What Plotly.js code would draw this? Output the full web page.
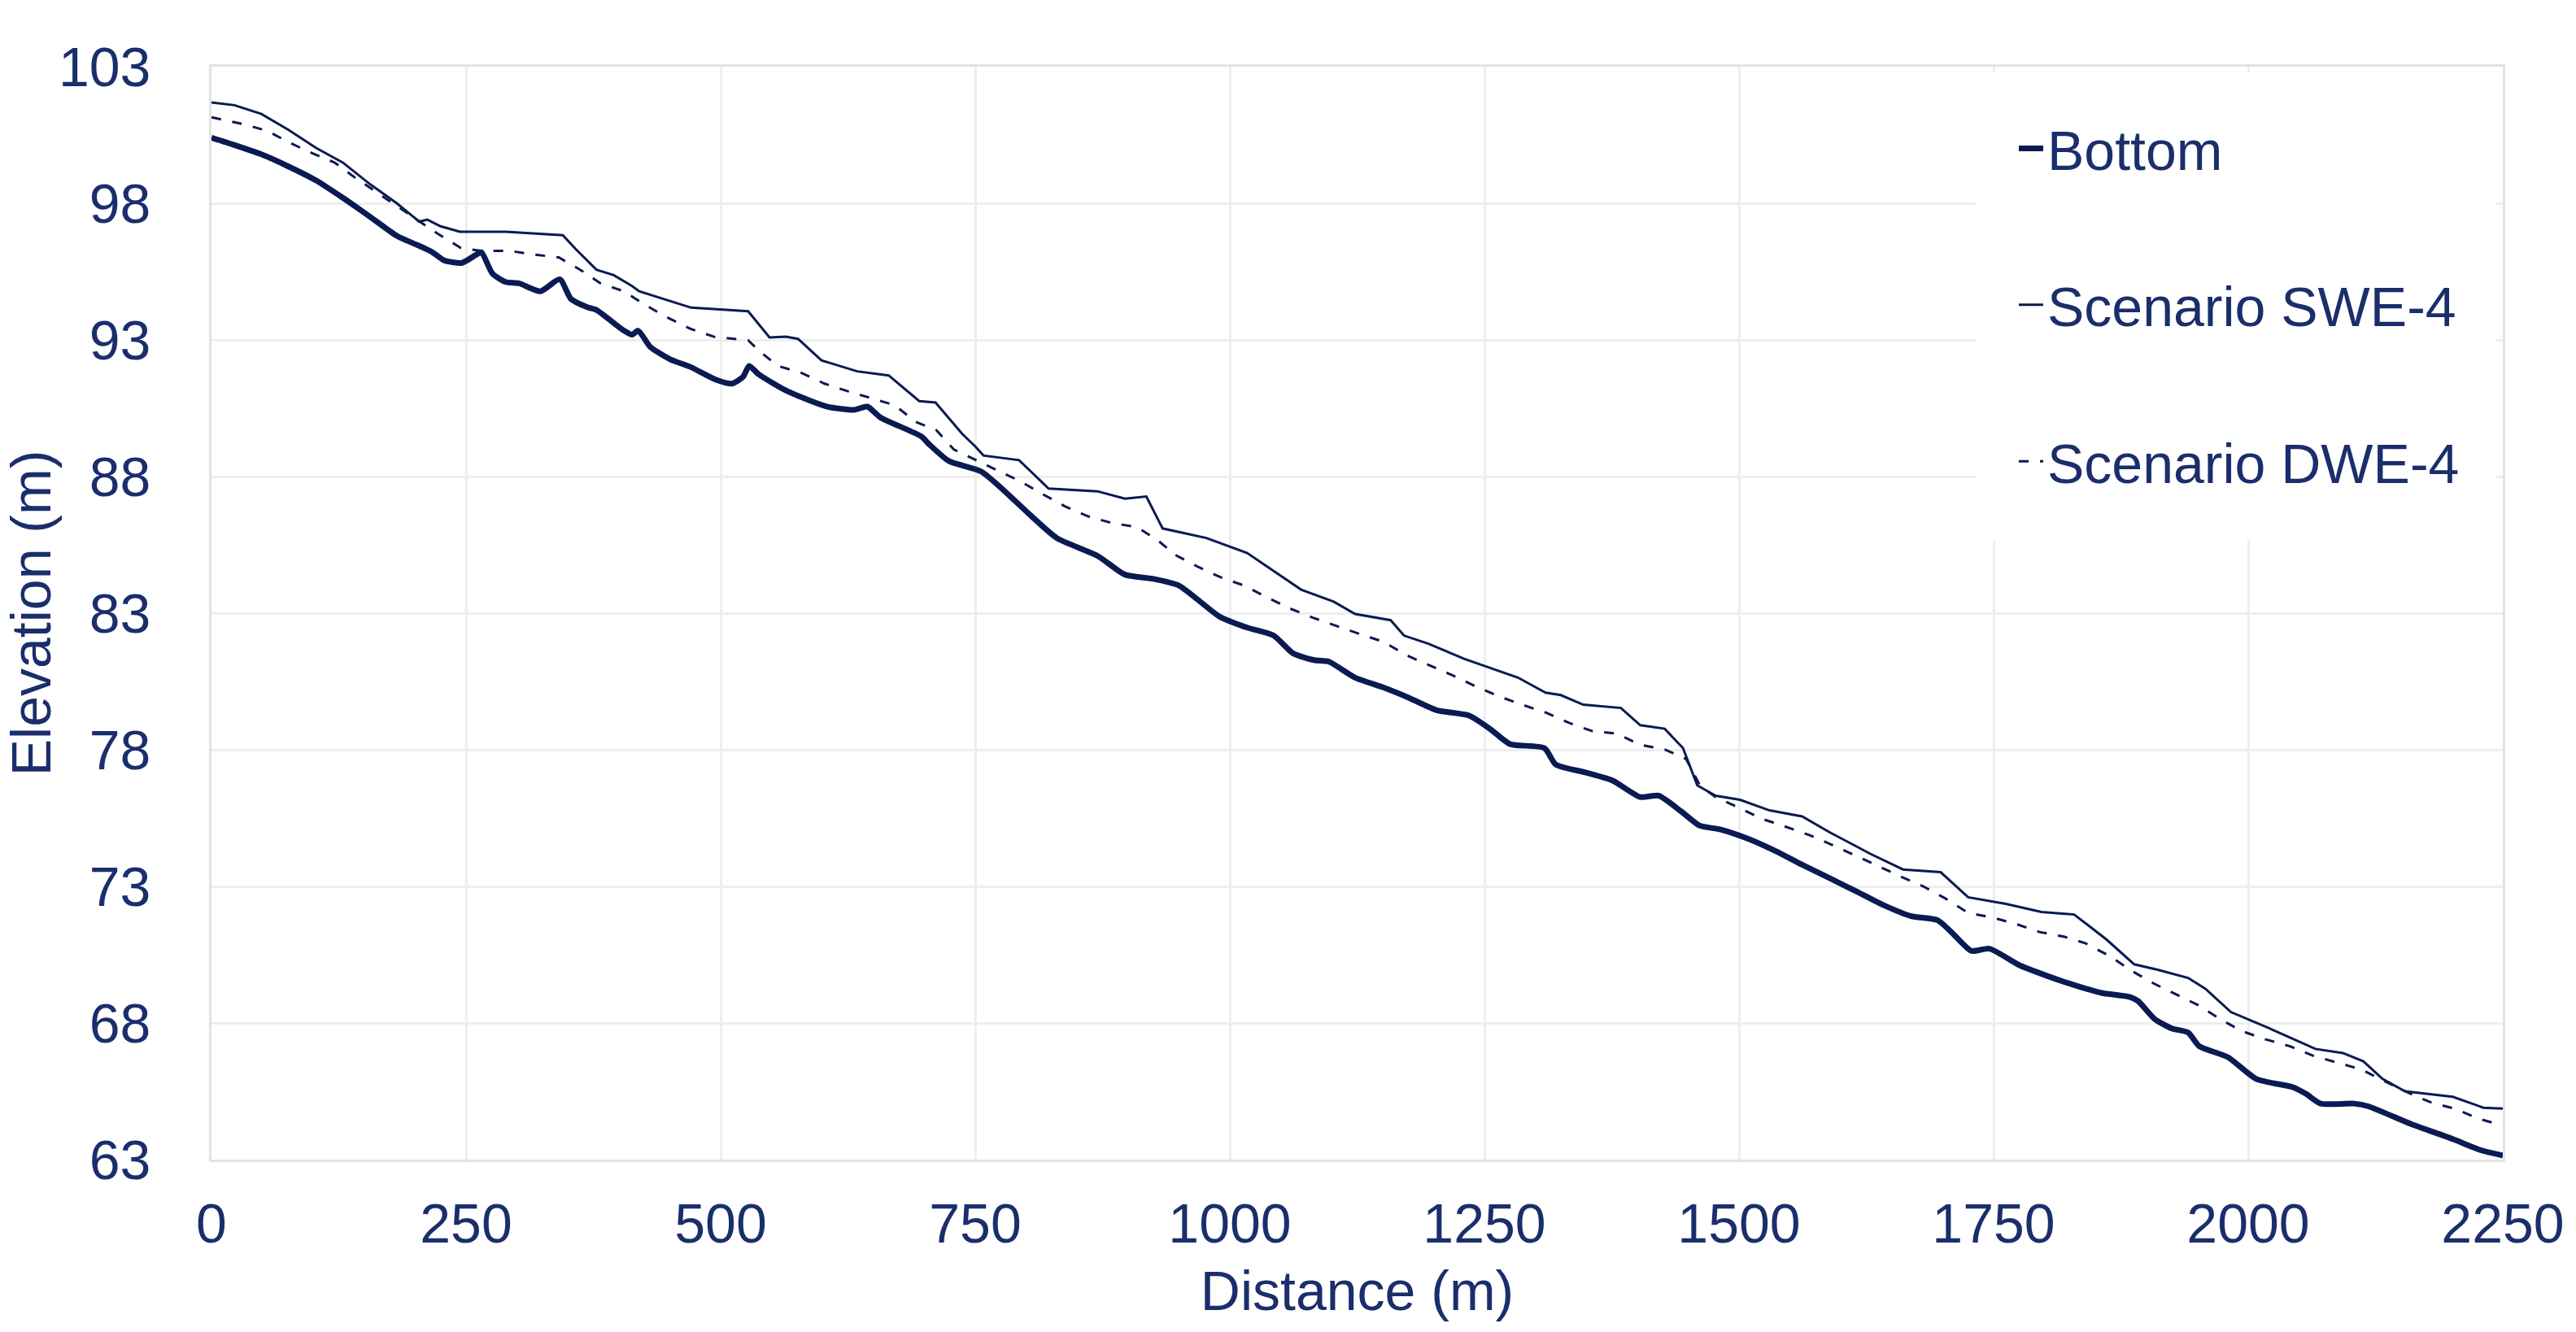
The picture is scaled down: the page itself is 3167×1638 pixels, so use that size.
<!DOCTYPE html>
<html>
<head>
<meta charset="utf-8">
<script src="https://cdn.plot.ly/plotly-3.0.1.min.js"></script>
<style>
html,body{margin:0;padding:0;background:#fff;}
#chart{width:3167px;height:1638px;}
</style>
</head>
<body>
<div id="chart"></div>
<script>
// ---- data ----
const bottomDist = [0,22.6,49,76,102.5,129,156,182,209,217,228,246,260,265,276,289,302,323,342,353,369,378,396,405,413,419,431,450,471,495,511,522,528,537,564,604,631,644,657,697,705,724,756,777,804,830,870,897,924,950,990,1017,1043,1062,1083,1097,1110,1123,1150,1176,1203,1235,1256,1275,1309,1320,1349,1376,1403,1421,1443,1461,1482,1509,1536,1562,1589,1616,1642,1669,1695,1709,1728,1746,1775,1802,1828,1856,1884,1892,1908,1925,1941,1952,1980,2008,2044,2057,2071,2104,2118,2160,2201,2228,2250];
const bottomElev = [100.4,100.13,99.79,99.34,98.84,98.2,97.5,96.81,96.36,96.21,95.92,95.82,96.12,96.21,95.42,95.12,95.07,94.78,95.22,94.5,94.2,94.1,93.59,93.34,93.19,93.34,92.74,92.3,92.0,91.55,91.4,91.65,92.05,91.75,91.15,90.56,90.44,90.56,90.16,89.47,89.17,88.57,88.18,87.53,86.59,85.75,85.1,84.41,84.26,84.01,82.87,82.47,82.18,81.53,81.28,81.23,80.94,80.64,80.29,79.9,79.45,79.25,78.75,78.21,78.06,77.46,77.17,76.87,76.27,76.32,75.75,75.23,75.08,74.74,74.29,73.79,73.3,72.8,72.31,71.91,71.76,71.31,70.64,70.72,70.12,69.73,69.4,69.1,68.95,68.8,68.15,67.8,67.65,67.15,66.75,65.95,65.65,65.4,65.05,65.05,64.95,64.3,63.75,63.35,63.15];

const sweDist = [0,22.6,49,76,102.5,129,156,182,204,212,225,244,289,345,358,378,395,413,420,471,527,548,564,576,599,634,665,695,711,737,750,758,793,822,870,897,918,934,977,1017,1070,1102,1123,1158,1171,1195,1230,1283,1310,1325,1347,1384,1403,1427,1445,1459,1477,1501,1530,1562,1589,1629,1661,1698,1725,1762,1797,1829,1842,1861,1888,1911,1941,1958,1983,2021,2066,2093,2113,2132,2154,2201,2231,2250];
const sweElev = [101.69,101.59,101.27,100.68,100.03,99.49,98.69,98.0,97.33,97.4,97.16,96.96,96.96,96.83,96.31,95.57,95.37,94.97,94.78,94.18,94.05,93.09,93.12,93.04,92.25,91.85,91.7,90.76,90.71,89.57,89.1,88.77,88.6,87.56,87.46,87.19,87.27,86.1,85.75,85.2,83.86,83.42,82.97,82.74,82.18,81.88,81.33,80.64,80.09,80.0,79.65,79.53,78.9,78.77,78.06,76.7,76.32,76.17,75.78,75.56,74.98,74.19,73.62,73.52,72.6,72.36,72.06,71.97,71.6,71.05,70.15,69.95,69.65,69.25,68.4,67.8,67.05,66.9,66.6,65.95,65.5,65.3,64.9,64.87];

const dweDist = [0,31,55,76,98.5,121,141,162,182,222,245,265,293,315,341,362,382,405,426,447,470,494,518,527,538,556,579,602,625,648,671,691,712,729,751,773,794,817,838,861,885,909,929,947,969,991,1014,1037,1059,1081,1105,1128,1151,1174,1196,1219,1242,1264,1287,1311,1334,1356,1380,1403,1427,1448,1462,1477,1500,1522,1546,1569,1592,1614,1637,1658,1681,1703,1725,1749,1773,1795,1819,1840,1864,1886,1907,1929,1951,1972,1994,2017,2041,2064,2088,2111,2135,2157,2179,2204,2226,2250];
const dweElev = [101.15,100.9,100.65,100.23,99.84,99.49,98.94,98.4,97.9,96.89,96.36,96.26,96.26,96.13,96.02,95.57,95.07,94.78,94.28,93.83,93.41,93.11,93.01,92.99,92.59,92.05,91.8,91.4,91.12,90.86,90.61,90.01,89.69,88.99,88.6,88.21,87.83,87.34,86.91,86.54,86.29,86.15,85.67,85.12,84.69,84.31,84.01,83.57,83.17,82.84,82.52,82.23,81.95,81.45,81.09,80.72,80.31,79.96,79.65,79.35,78.97,78.68,78.59,78.18,78.01,77.66,76.67,76.27,75.88,75.48,75.18,74.88,74.51,74.14,73.74,73.37,73.0,72.55,72.03,71.86,71.61,71.33,71.16,70.92,70.45,69.9,69.45,69.05,68.65,68.15,67.7,67.4,67.15,66.8,66.55,66.3,65.85,65.45,65.1,64.85,64.5,64.25];

const seriesNames = ['Bottom','Scenario SWE-4','Scenario DWE-4'];
const xTickVals = [0,250,500,750,1000,1250,1500,1750,2000,2250];
const yTickVals = [63,68,73,78,83,88,93,98,103];

// ---- styling ----
const lineColor = '#0a1a52';
const textColor = '#1b2e6c';
const fontFamily = 'Arial, "Liberation Sans", sans-serif';

const traces = [
  {x: bottomDist, y: bottomElev, name: seriesNames[0], mode: 'lines', legendgroup: 'a',
   line: {color: lineColor, width: 7, shape: 'spline', smoothing: 0.6}},
  {x: sweDist, y: sweElev, name: seriesNames[1], mode: 'lines', legendgroup: 'b',
   line: {color: lineColor, width: 3}},
  {x: dweDist, y: dweElev, name: seriesNames[2], mode: 'lines', legendgroup: 'c',
   line: {color: lineColor, width: 3, dash: '12px,14px'}}
];

const layout = {
  width: 3167, height: 1638,
  margin: {l: 260, r: 90, t: 82, b: 212},
  paper_bgcolor: '#ffffff', plot_bgcolor: '#ffffff',
  font: {family: fontFamily, size: 68, color: textColor},
  showlegend: true,
  legend: {
    x: 0.787, xanchor: 'left', y: 0.963, yanchor: 'top',
    bgcolor: '#ffffff', borderwidth: 0,
    font: {family: fontFamily, size: 68, color: textColor},
    traceorder: 'grouped', tracegroupgap: 101,
    itemwidth: 30
  },
  // white panel behind the legend (hides the gridlines there, as in the original)
  shapes: [{
    type: 'rect', xref: 'paper', yref: 'paper',
    x0: 0.770, x1: 0.997, y0: 0.567, y1: 0.995,
    fillcolor: '#ffffff', line: {width: 0}, layer: 'above'
  }],
  xaxis: {
    range: [0, 2250], tickmode: 'array', tickvals: xTickVals,
    showgrid: true, gridcolor: '#eeeeee', gridwidth: 3,
    showline: true, linecolor: '#e3e3e3', linewidth: 3, mirror: true,
    zeroline: false, ticks: '', ticklabelstandoff: 17,
    tickfont: {family: fontFamily, size: 68, color: textColor},
    title: {text: 'Distance (m)', standoff: 23, font: {family: fontFamily, size: 68, color: textColor}},
    automargin: false
  },
  yaxis: {
    range: [63, 103], tickmode: 'array', tickvals: yTickVals,
    showgrid: true, gridcolor: '#eeeeee', gridwidth: 3,
    showline: true, linecolor: '#e3e3e3', linewidth: 3, mirror: true,
    zeroline: false, ticks: '', ticklabelstandoff: 58,
    tickfont: {family: fontFamily, size: 68, color: textColor},
    title: {text: 'Elevation (m)', standoff: 6, font: {family: fontFamily, size: 68, color: textColor}},
    automargin: false
  }
};

Plotly.newPlot('chart', traces, layout, {displayModeBar: false, staticPlot: true});
</script>
</body>
</html>
